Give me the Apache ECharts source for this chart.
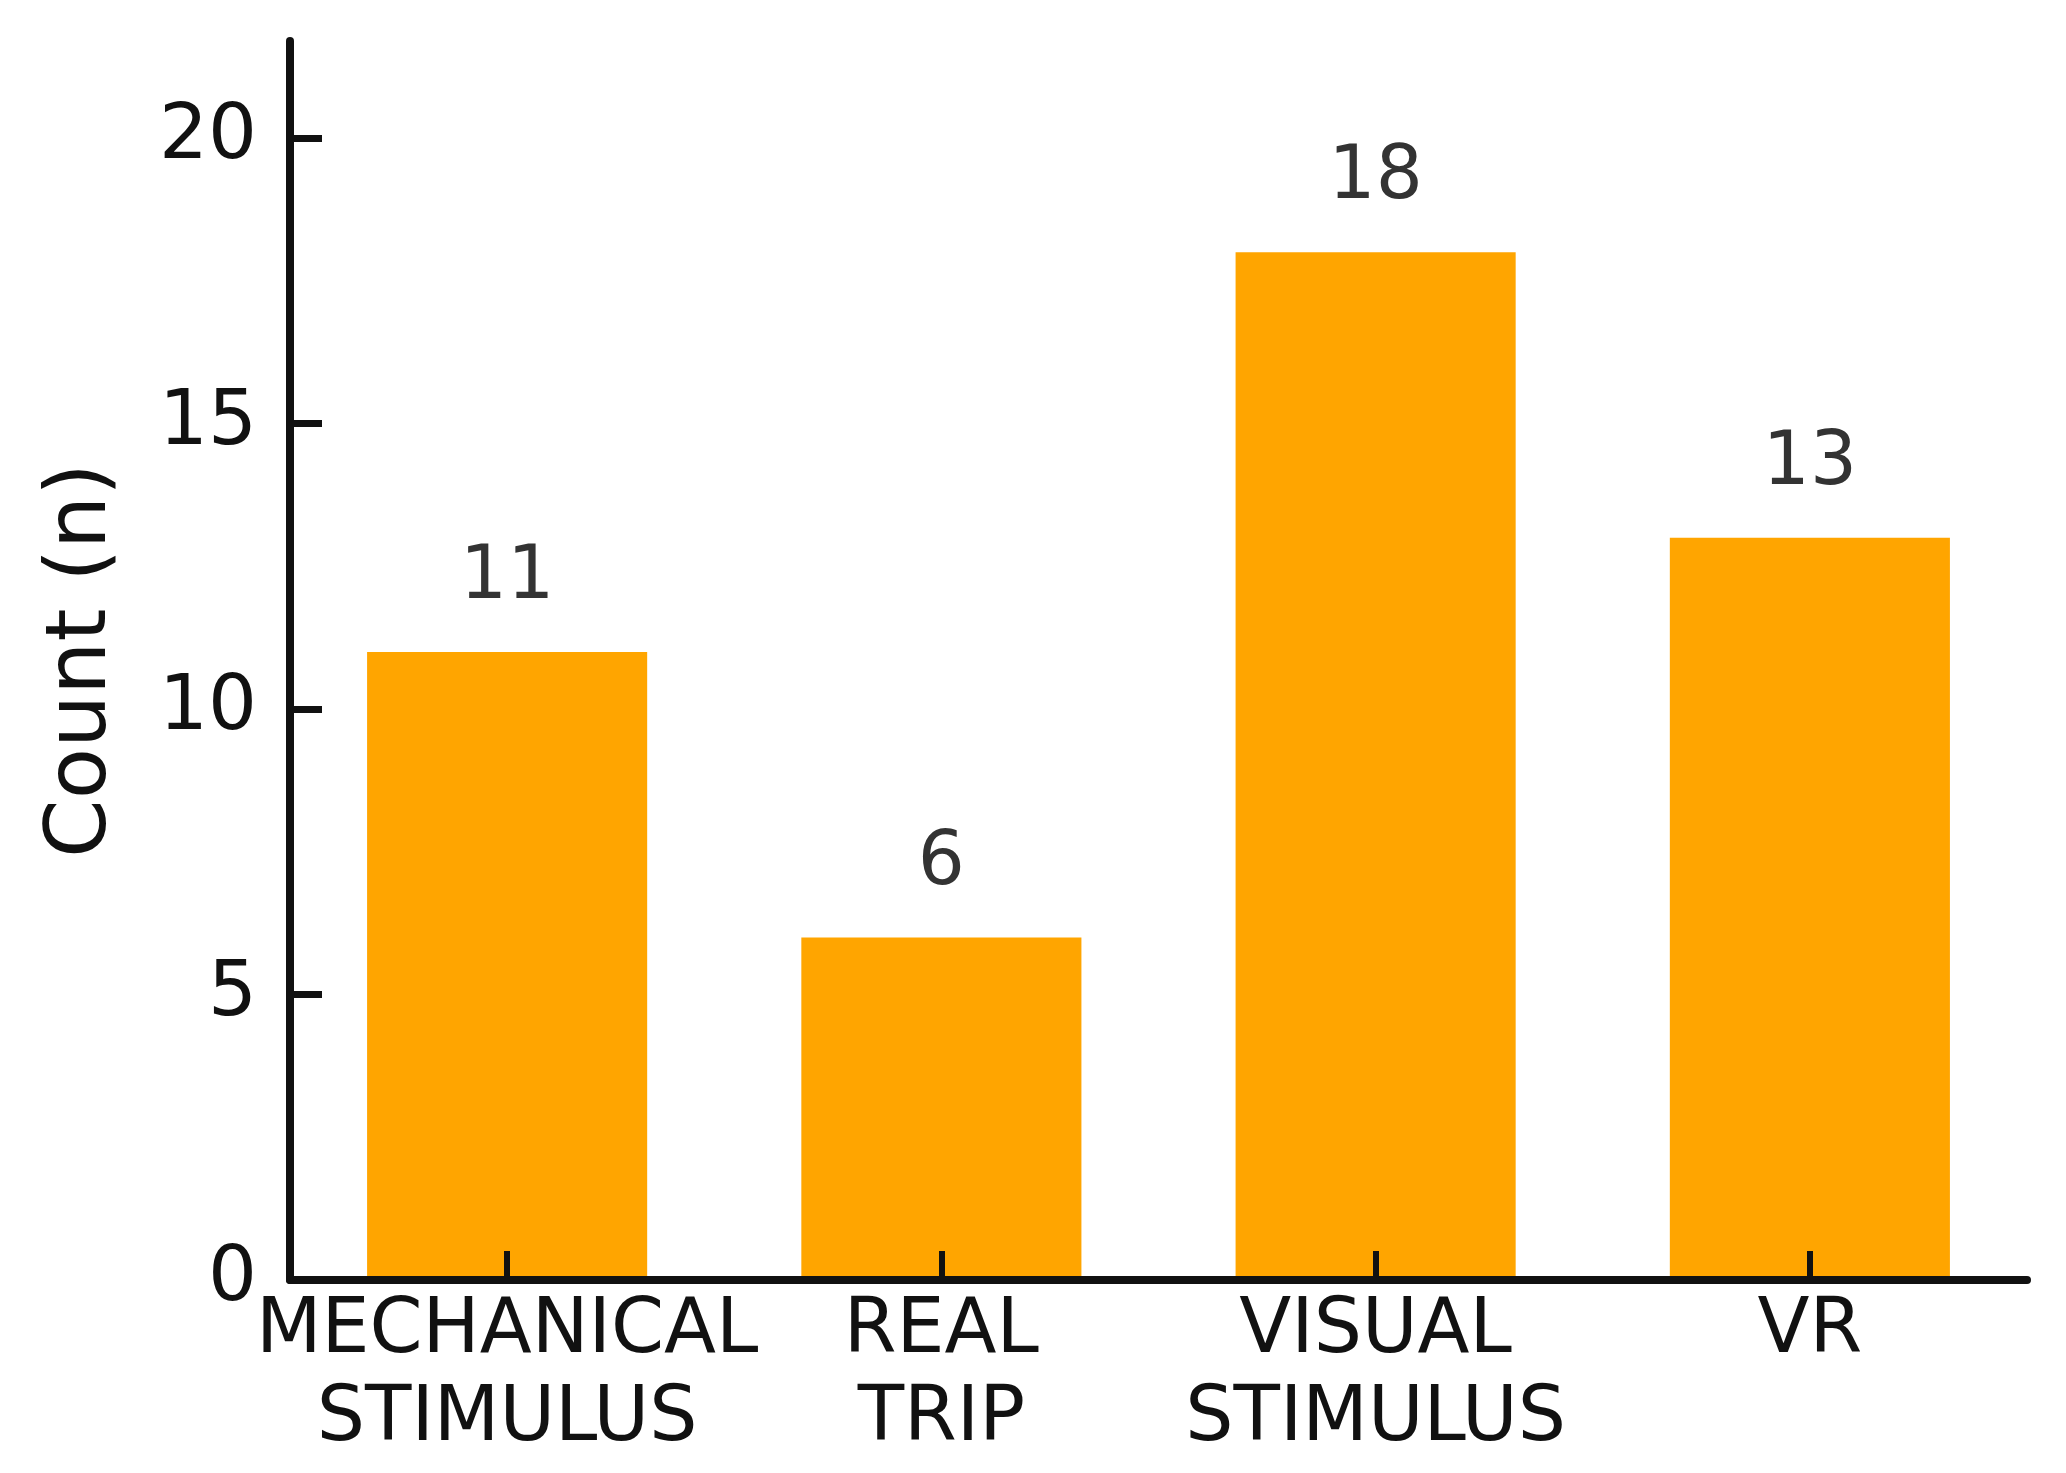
<!DOCTYPE html>
<html>
<head>
<meta charset="utf-8">
<script src="https://cdn.jsdelivr.net/npm/echarts@6/dist/echarts.min.js"></script>
<style>
  html, body { margin: 0; padding: 0; background: #fff; }
  #chart { width: 2066px; height: 1473px; }
</style>
</head>
<body>
<div id="chart"></div>
<script>
// data
var categories = ['MECHANICAL\nSTIMULUS', 'REAL\nTRIP', 'VISUAL\nSTIMULUS', 'VR'];
var counts = [11, 6, 18, 13];
var yTicks = [0, 5, 10, 15, 20];

var font = 'DejaVu Sans';
var ink = '#111111';

var myChart = echarts.init(document.getElementById('chart'));
var option = {
  animation: false,
  backgroundColor: '#ffffff',
  grid: { left: 290, right: 39, top: 41, bottom: 193, containLabel: false },
  xAxis: {
    type: 'category',
    data: categories,
    z: 5,
    axisLine: { lineStyle: { color: ink, width: 8 } },
    axisTick: { show: true, inside: true, alignWithLabel: true, length: 29, lineStyle: { color: ink, width: 6 } },
    axisLabel: { color: ink, fontFamily: font, fontSize: 76, lineHeight: 88, margin: 8, interval: 0 },
    splitLine: { show: false }
  },
  yAxis: {
    type: 'value',
    min: 0,
    max: 21.7,
    interval: 5,
    z: 5,
    name: 'Count (n)',
    nameLocation: 'middle',
    nameRotate: 90,
    nameGap: 165,
    nameTextStyle: { color: ink, fontFamily: font, fontSize: 84, lineHeight: 84 },
    axisLine: { show: true, lineStyle: { color: ink, width: 8 } },
    axisTick: { show: true, inside: true, length: 32, customValues: yTicks, lineStyle: { color: ink, width: 7 } },
    axisLabel: { color: ink, fontFamily: font, fontSize: 77, margin: 33, padding: [8, 0, 0, 0], customValues: yTicks },
    splitLine: { show: false }
  },
  series: [{
    type: 'bar',
    data: counts,
    barWidth: '64.5%',
    itemStyle: { color: '#FFA500' },
    label: {
      show: true,
      position: 'top',
      distance: 36,
      color: '#333333',
      fontFamily: font,
      fontSize: 74,
      lineHeight: 74
    }
  }]
};
myChart.setOption(option);
</script>
</body>
</html>
